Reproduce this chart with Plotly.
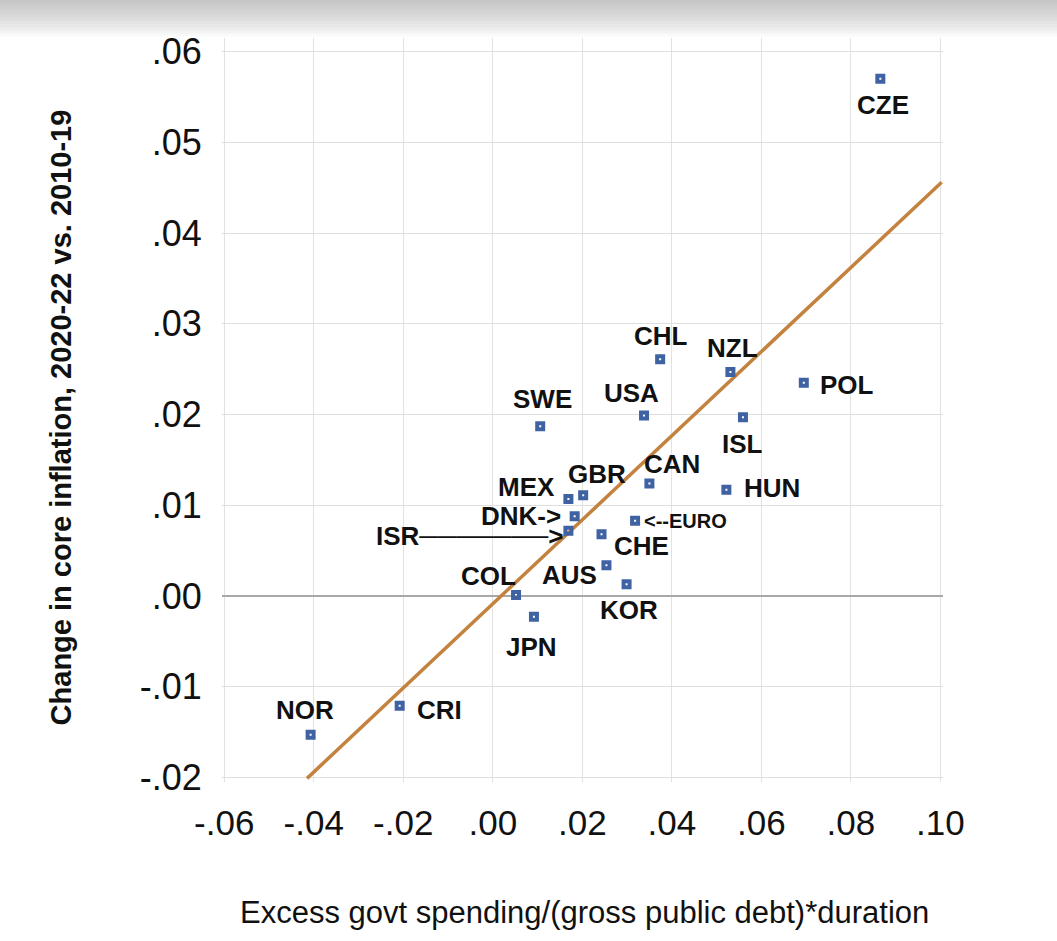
import plotly.graph_objects as go

# country points
countries = ["CZE", "CHL", "NZL", "POL", "USA", "SWE", "ISL", "CAN", "HUN", "GBR", "MEX",
             "DNK", "ISR", "EURO", "CHE", "AUS", "KOR", "COL", "JPN", "CRI", "NOR"]
spend = [0.0866, 0.0374, 0.0531, 0.0695, 0.0338, 0.0106, 0.0559, 0.0350, 0.0522, 0.0202, 0.0169,
         0.0183, 0.0169, 0.0318, 0.0243, 0.0254, 0.0299, 0.0052, 0.0092, -0.0208, -0.0407]
infl = [0.0570, 0.0261, 0.0247, 0.0235, 0.0199, 0.0187, 0.0197, 0.0124, 0.0117, 0.0111, 0.0107,
        0.0088, 0.0072, 0.0083, 0.0068, 0.0034, 0.0013, 0.0001, -0.0023, -0.0121, -0.0153]
point_text = ["CZE", "CHL", "NZL", "POL", "USA", "SWE", "ISL", "CAN", "HUN", "GBR", "MEX",
              "DNK->", "ISR" + "\u2500" * 7 + ">", "<--EURO", "CHE", "AUS", "KOR", "COL", "JPN", "CRI", "NOR"]

# fitted line end points
fit_x = [-0.0415, 0.1003]
fit_y = [-0.0201, 0.0456]

x_ticks = [-0.06, -0.04, -0.02, 0.0, 0.02, 0.04, 0.06, 0.08, 0.10]
x_ticktext = ["-.06", "-.04", "-.02", ".00", ".02", ".04", ".06", ".08", ".10"]
y_ticks = [0.06, 0.05, 0.04, 0.03, 0.02, 0.01, 0.0, -0.01, -0.02]
y_ticktext = [".06", ".05", ".04", ".03", ".02", ".01", ".00", "-.01", "-.02"]

# label placement: (xanchor, xshift px, yshift px)
label_pos = {
    "CZE": ("center", 3, -26), "CHL": ("center", 1, 23), "NZL": ("center", 2, 24),
    "POL": ("left", 14, -2), "USA": ("center", -13, 22), "SWE": ("center", 2, 27),
    "ISL": ("center", 0, -27), "CAN": ("center", 23, 19), "HUN": ("left", 16, 2),
    "GBR": ("center", 14, 21), "MEX": ("right", -11, 12), "DNK": ("right", -12, 0),
    "ISR": ("right", -3, -5), "EURO": ("left", 7, 0), "CHE": ("left", 10, -12),
    "AUS": ("right", -7, -10), "KOR": ("center", 2, -26), "COL": ("right", 2, 19),
    "JPN": ("center", -2, -30), "CRI": ("left", 15, -4), "NOR": ("center", -6, 25),
}

LINE_COLOR = "#C4823F"
POINT_COLOR = "#3F62A3"
FONT = "Liberation Sans, Arial, sans-serif"

fig = go.Figure()
fig.add_trace(go.Scatter(x=fit_x, y=fit_y, mode="lines",
                         line={"color": LINE_COLOR, "width": 3.5}, showlegend=False))
fig.add_trace(go.Scatter(x=spend, y=infl, mode="markers",
                         marker={"symbol": "square-open", "size": 6, "color": POINT_COLOR,
                                 "line": {"width": 4, "color": POINT_COLOR}},
                         text=countries, showlegend=False))

annotations = []
for c, x, y, t in zip(countries, spend, infl, point_text):
    anchor, dx, dy = label_pos[c]
    small = c == "EURO"
    annotations.append({
        "x": x, "y": y, "text": t, "showarrow": False,
        "xanchor": anchor, "yanchor": "middle", "xshift": dx, "yshift": dy,
        "font": {"family": FONT, "size": 20 if small else 26, "color": "#111111",
                 "weight": "bold"},
    })

annotations.append({
    "text": "Change in core inflation, 2020-22 vs. 2010-19", "textangle": -90,
    "xref": "paper", "yref": "paper", "x": -0.222, "y": 0.49, "showarrow": False,
    "xanchor": "center", "yanchor": "middle",
    "font": {"family": FONT, "size": 29, "color": "#111111", "weight": "bold"},
})
annotations.append({
    "text": "Excess govt spending/(gross public debt)*duration",
    "xref": "paper", "yref": "paper", "x": 0.503, "y": -0.176, "showarrow": False,
    "xanchor": "center", "yanchor": "middle",
    "font": {"family": FONT, "size": 31, "color": "#111111"},
})

# grey gradient band along the top of the picture
shapes = []
steps = 12
for i in range(steps):
    shapes.append({
        "type": "rect", "xref": "paper", "yref": "paper", "layer": "below",
        "x0": -0.4, "x1": 1.2, "y0": 1.002 + i * 0.0042, "y1": 1.06,
        "fillcolor": "rgba(150,150,150,0.06)", "line": {"width": 0},
    })

fig.update_layout(
    width=1057, height=941,
    margin={"l": 222, "r": 114, "t": 38, "b": 159},
    plot_bgcolor="white", paper_bgcolor="white",
    xaxis={"range": [-0.0605, 0.1006], "tickvals": x_ticks, "ticktext": x_ticktext,
           "showgrid": True, "gridcolor": "#E2E2E2", "gridwidth": 1, "zeroline": False,
           "showline": False, "ticks": "outside", "ticklen": 10, "tickcolor": "rgba(0,0,0,0)",
           "tickfont": {"family": FONT, "size": 35, "color": "#111111"}},
    yaxis={"range": [-0.0205, 0.0615], "tickvals": y_ticks, "ticktext": y_ticktext,
           "showgrid": True, "gridcolor": "#DEDEDE", "gridwidth": 1,
           "zeroline": True, "zerolinecolor": "#A8A8A8", "zerolinewidth": 1.5,
           "showline": False, "ticks": "outside", "ticklen": 12, "tickcolor": "rgba(0,0,0,0)",
           "tickfont": {"family": FONT, "size": 36, "color": "#111111"}},
    annotations=annotations,
    shapes=shapes,
)

fig.write_html("out.html", config={"displayModeBar": False},
               post_script="document.body.style.margin='0';")
